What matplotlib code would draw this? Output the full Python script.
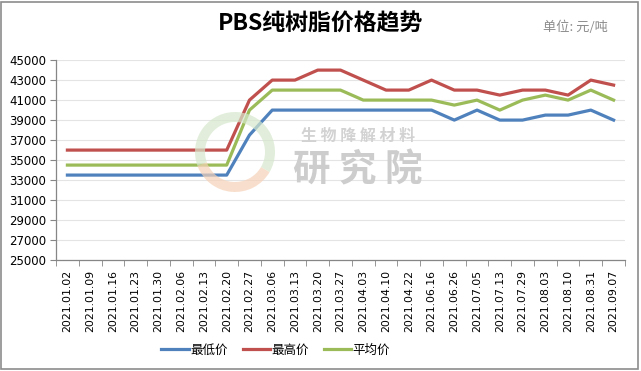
"""
PBS resin price trend (min / max / average), weekly quotes in 2021.
"""

import matplotlib
matplotlib.use("Agg")
import matplotlib.pyplot as plt
from matplotlib.patches import Rectangle, Wedge

plt.rcParams["font.family"] = ["Noto Sans CJK SC", "DejaVu Sans"]

# Data
dates = [
    "2021.01.02", "2021.01.09", "2021.01.16", "2021.01.23", "2021.01.30",
    "2021.02.06", "2021.02.13", "2021.02.20", "2021.02.27", "2021.03.06",
    "2021.03.13", "2021.03.20", "2021.03.27", "2021.04.03", "2021.04.10",
    "2021.04.22", "2021.06.16", "2021.06.26", "2021.07.05", "2021.07.13",
    "2021.07.29", "2021.08.03", "2021.08.10", "2021.08.31", "2021.09.07",
]
low_price = [
    33500, 33500, 33500, 33500, 33500, 33500, 33500, 33500, 37500, 40000,
    40000, 40000, 40000, 40000, 40000, 40000, 40000, 39000, 40000, 39000,
    39000, 39500, 39500, 40000, 39000,
]
high_price = [
    36000, 36000, 36000, 36000, 36000, 36000, 36000, 36000, 41000, 43000,
    43000, 44000, 44000, 43000, 42000, 42000, 43000, 42000, 42000, 41500,
    42000, 42000, 41500, 43000, 42500,
]
avg_price = [
    34500, 34500, 34500, 34500, 34500, 34500, 34500, 34500, 40000, 42000,
    42000, 42000, 42000, 41000, 41000, 41000, 41000, 40500, 41000, 40000,
    41000, 41500, 41000, 42000, 41000,
]
y_ticks = list(range(25000, 45001, 2000))

BLUE = "#4F81BD"
RED = "#C0504D"
GREEN = "#9BBB59"

fig = plt.figure(figsize=(6.41, 3.71), dpi=100)
fig.patches.append(Rectangle((0.002, 0.005), 0.993, 0.99, transform=fig.transFigure,
                             fill=False, edgecolor="#8c8c8c", linewidth=1.2))

# faint watermark logo (ring) behind the plot
fig.patches.append(Wedge((235, 371 - 152), 40, 200, 330, width=10,
                         facecolor="#f6d2b8", edgecolor="none", alpha=0.7, zorder=0))
fig.patches.append(Wedge((235, 371 - 152), 40, 330, 200, width=10,
                         facecolor="#d6e8cc", edgecolor="none", alpha=0.7, zorder=0))
fig.text(0.558, 1 - 136 / 371, "生 物 降 解 材 料", ha="center", va="center",
         fontsize=11.5, fontweight="bold", color="#d2d2d2", zorder=1)
fig.text(0.558, 1 - 170 / 371, "研 究 院", ha="center", va="center",
         fontsize=27, fontweight="bold", color="#cdcdcd", zorder=1)

ax = fig.add_axes([0.0874, 0.299, 0.8876, 0.539])
ax.patch.set_alpha(0)
x = list(range(len(dates)))

ax.plot(x, low_price, color=BLUE, linewidth=2.3, label="最低价", zorder=3)
ax.plot(x, high_price, color=RED, linewidth=2.3, label="最高价", zorder=3)
ax.plot(x, avg_price, color=GREEN, linewidth=2.3, label="平均价", zorder=3)

ax.set_xlim(-0.5, len(dates) - 0.5)
ax.set_ylim(25000, 45000)
ax.set_yticks(y_ticks)
ax.set_yticklabels([str(v) for v in y_ticks], fontsize=8.5, family="DejaVu Sans")
ax.set_xticks(x)
ax.set_xticklabels(dates, rotation=90, fontsize=7.8, family="DejaVu Sans")
ax.set_xticks([i - 0.5 for i in range(len(dates) + 1)], minor=True)
ax.tick_params(axis="x", which="major", length=0, pad=7)
ax.tick_params(axis="x", which="minor", length=4, color="#868686")
ax.tick_params(axis="y", length=4, color="#868686", pad=3)
ax.yaxis.grid(True, color="#e4e4e4", linewidth=0.8)
ax.set_axisbelow(True)
for side in ["top", "right"]:
    ax.spines[side].set_visible(False)
for side in ["left", "bottom"]:
    ax.spines[side].set_color("#868686")
    ax.spines[side].set_linewidth(0.9)

fig.text(0.5, 1 - 24 / 371, "PBS纯树脂价格趋势", ha="center", va="center",
         fontsize=16.5, fontweight="bold", color="black")
fig.text(0.898, 1 - 27 / 371, "单位: 元/吨", ha="center", va="center",
         fontsize=9.5, color="#8c8c8c")

fig.legend(loc="center", bbox_to_anchor=(0.43, 1 - 350 / 371), ncol=3, frameon=False,
           fontsize=9, handlelength=2.2, handletextpad=0.1, columnspacing=1.2)

fig.savefig("out.png", dpi=100)
